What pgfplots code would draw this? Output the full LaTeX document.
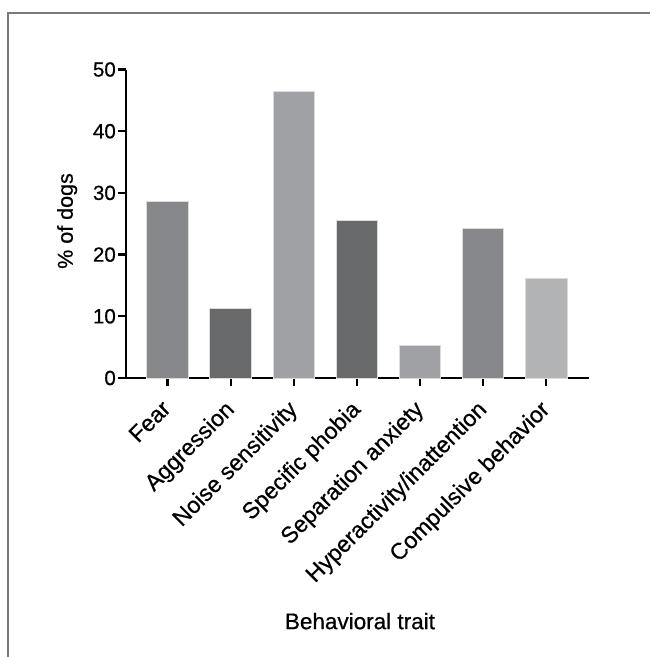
\documentclass[border=0pt]{standalone}
\usepackage{fontspec}
\setmainfont{Liberation Sans}[FakeBold=0.6]
\usepackage{pgfplots}
\pgfplotsset{compat=1.18}

\definecolor{cmid}{HTML}{87888C}
\definecolor{cdark}{HTML}{68696B}
\definecolor{clight}{HTML}{A0A1A5}
\definecolor{cpale}{HTML}{B2B3B5}
\definecolor{frame}{HTML}{7A7A7A}

\begin{document}
\begin{tikzpicture}
  \useasboundingbox (0pt,0pt) rectangle (650pt,657pt);
  \begin{axis}[
    at={(126pt,279pt)}, anchor=south west,
    scale only axis,
    width=463.3pt, height=308.5pt,
    xmin=-0.66, xmax=6.685,
    ymin=0, ymax=50,
    enlargelimits=false,
    axis x line=bottom, axis y line=left,
    axis line style={-, line width=2.5pt, black},
    tick style={line width=2.3pt, black},
    major tick length=8pt,
    tick align=outside,
    ytick={0,10,...,50},
    xtick={0,...,6},
    xticklabels={Fear,Aggression,Noise sensitivity,Specific phobia,Separation anxiety,Hyperactivity/inattention,Compulsive behavior},
    x tick label style={rotate=45, anchor=north east, font=\fontsize{23}{26}\selectfont, inner sep=2pt, xshift=-12pt, yshift=-2pt},
    y tick label style={font=\fontsize{20.5}{24}\selectfont, inner sep=2pt},
    /pgf/number format/assume math mode=true,
    ylabel={\% of dogs},
    xlabel={Behavioral trait},
    ylabel style={at={(axis description cs:-0.127,0.509)}, anchor=center, font=\fontsize{21.5}{24}\selectfont},
    xlabel style={at={(axis description cs:0.505,-0.788)}, anchor=center, font=\fontsize{22.5}{26}\selectfont},
    ybar, bar width=41.7pt, bar shift=0pt,
    every axis plot/.append style={draw=white!86!black, line width=0.8pt},
    clip=false,
    ]
    \addplot[fill=cmid]   coordinates {(0,28.7)};
    \addplot[fill=cdark]  coordinates {(1,11.2)};
    \addplot[fill=clight] coordinates {(2,46.5)};
    \addplot[fill=cdark]  coordinates {(3,25.6)};
    \addplot[fill=clight] coordinates {(4,5.3)};
    \addplot[fill=cmid]   coordinates {(5,24.3)};
    \addplot[fill=cpale]  coordinates {(6,16.2)};
  \end{axis}
  \draw[frame, line width=2pt] (7.8pt,0pt) -- (7.8pt,644.3pt) -- (650pt,644.3pt);
\end{tikzpicture}
\end{document}
